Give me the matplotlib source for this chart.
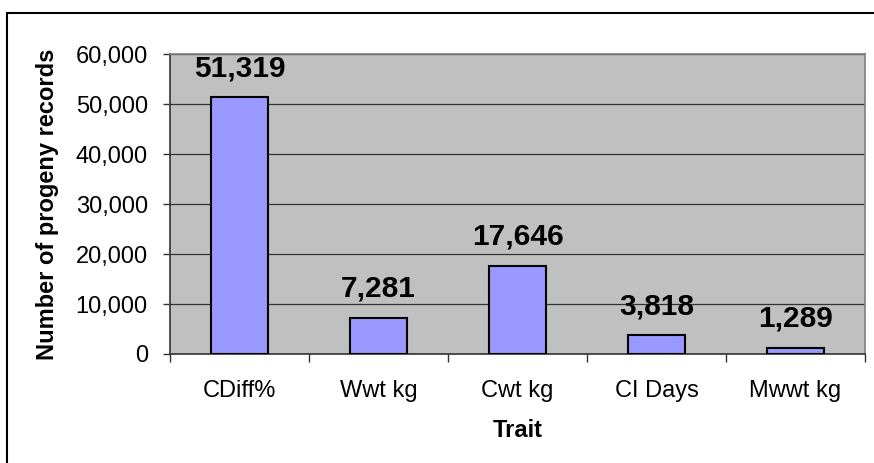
import matplotlib
matplotlib.use("Agg")
import matplotlib.pyplot as plt
from matplotlib.patches import Rectangle
from matplotlib.ticker import FuncFormatter

traits = ["CDiff%", "Wwt kg", "Cwt kg", "CI Days", "Mwwt kg"]
records = [51319, 7281, 17646, 3818, 1289]
y_ticks = [0, 10000, 20000, 30000, 40000, 50000, 60000]

plt.rcParams["font.family"] = ["Liberation Sans", "DejaVu Sans"]

W, H = 874, 463
fig = plt.figure(figsize=(W / 100, H / 100), dpi=100)

# outer chart frame (runs off the right/bottom edge like the source)
fig.patches.append(Rectangle((7 / W, -0.2), 2.0, 1.2 - 12.5 / H,
                             transform=fig.transFigure, fill=False,
                             edgecolor="black", linewidth=1.5))

ax = fig.add_axes([170 / W, (H - 354) / H, 695 / W, 300 / H])
ax.set_facecolor("#C0C0C0")

x = range(len(traits))
ax.bar(x, records, width=0.41, color="#9999FF", edgecolor="black",
       linewidth=1.5, zorder=3)

for xi, v in zip(x, records):
    ax.annotate(f"{v:,}", (xi, v), xytext=(0, 15), textcoords="offset points",
                ha="center", va="baseline", fontsize=21.5, fontweight="bold")

ax.set_xlim(-0.5, len(traits) - 0.5)
ax.set_ylim(0, 60000)
ax.set_yticks(y_ticks)
ax.yaxis.set_major_formatter(FuncFormatter(lambda v, _: f"{int(v):,}"))
ax.grid(axis="y", color="#333333", linewidth=0.9, zorder=1)

ax.set_xticks(list(x))
ax.set_xticklabels(traits)
ax.set_xticks([i - 0.5 for i in range(len(traits) + 1)], minor=True)
ax.tick_params(axis="x", which="major", length=0, pad=19, labelsize=17)
ax.tick_params(axis="x", which="minor", length=6, width=1, color="#333333")
ax.tick_params(axis="y", length=5, width=1, color="#333333", pad=11,
               labelsize=17)

for side in ("top", "right"):
    ax.spines[side].set_color("#808080")
    ax.spines[side].set_linewidth(1.2)
for side in ("left", "bottom"):
    ax.spines[side].set_color("#333333")
    ax.spines[side].set_linewidth(1.2)

ax.set_ylabel("Number of progeny records", fontsize=17, fontweight="bold",
              labelpad=12)
ax.set_xlabel("Trait", fontsize=17, fontweight="bold", labelpad=12)

fig.savefig("out.png", dpi=100)
